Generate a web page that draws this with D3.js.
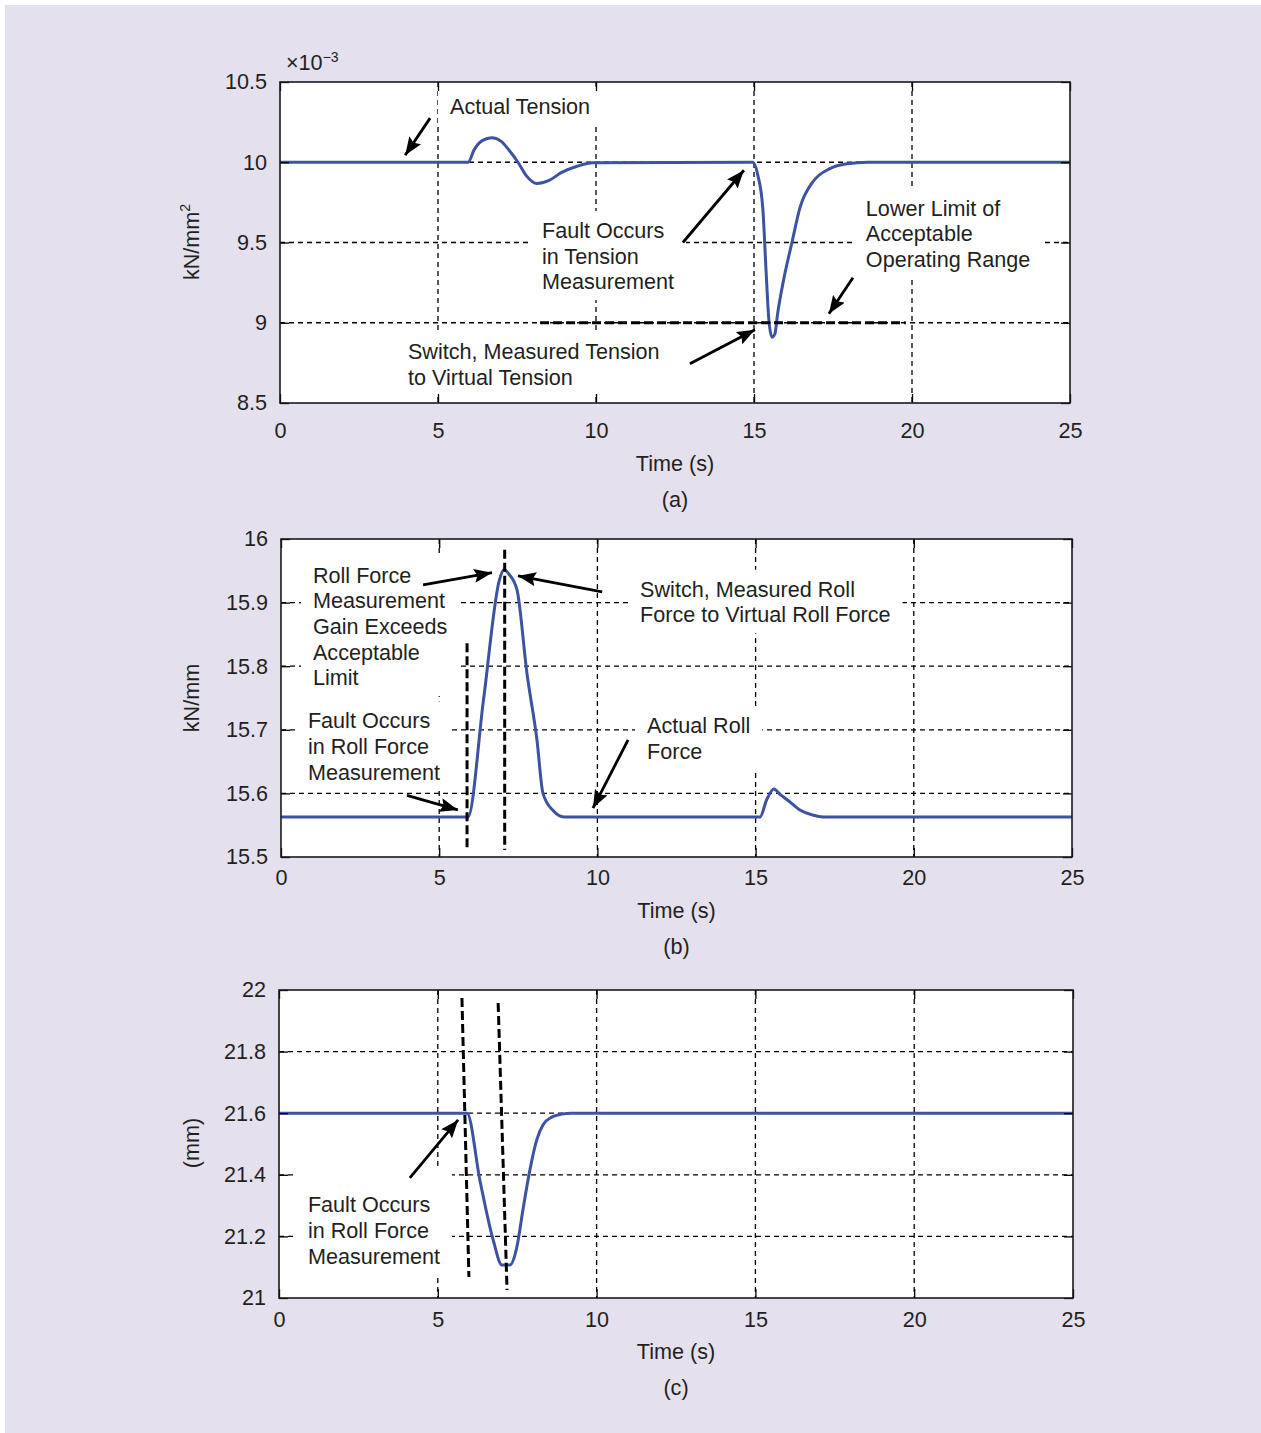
<!DOCTYPE html>
<html>
<head>
<meta charset="utf-8">
<script src="https://cdn.jsdelivr.net/npm/d3@7"></script>
<style>
body { margin: 0; background: #fff; }
svg { display: block; font-family: "Liberation Sans", Arial, Helvetica, sans-serif; }
</style>
</head>
<body>
<svg id="fig" width="1261" height="1433"></svg>
<script>
// shared time axis
var timeTicks = [0, 5, 10, 15, 20, 25];
var timeGrid = [5, 10, 15, 20];

// (a) strip tension, x10^-3 kN/mm2
var tensionTicks = [8.5, 9, 9.5, 10, 10.5];
var tensionGrid = [9, 9.5, 10];
var tension = [[0,10],[5.95,10],[6.15,10.08],[6.4,10.135],[6.7,10.152],[7.0,10.13],[7.25,10.075],
  [7.53,10],[7.8,9.915],[8.13,9.867],[8.5,9.885],[8.9,9.935],[9.4,9.975],[9.9,9.997],[14.97,10],
  [15.12,9.92],[15.28,9.71],[15.38,9.33],[15.47,9.02],[15.57,8.91],[15.66,8.93],[15.75,9.06],
  [15.92,9.25],[16.2,9.5],[16.46,9.72],[16.87,9.88],[17.4,9.96],[17.94,9.99],[18.6,10],[25,10]];
var tensionLimit = [[8.23, 9], [19.8, 9]];

// (b) roll force, kN/mm
var rollTicks = [15.5, 15.6, 15.7, 15.8, 15.9, 16];
var rollGrid = [15.6, 15.7, 15.8, 15.9];
var rollForce = [[0,15.563],[5.91,15.563],[6.4,15.747],[6.9,15.935],[7.05,15.952],[7.2,15.945],
  [7.46,15.92],[7.77,15.79],[8.09,15.684],[8.28,15.6],[8.6,15.573],[8.95,15.563],[15.14,15.563],
  [15.35,15.59],[15.58,15.607],[15.78,15.598],[16.0,15.59],[16.4,15.574],[16.8,15.566],
  [17.13,15.563],[25,15.563]];
var rollMarks = [[[5.88,15.836],[5.88,15.514]], [[7.07,15.983],[7.07,15.511]]];

// (c) roll gap, mm
var gapTicks = [21, 21.2, 21.4, 21.6, 21.8, 22];
var gapGrid = [21.2, 21.4, 21.6, 21.8];
var gap = [[0,21.6],[5.92,21.6],[6.33,21.38],[6.74,21.19],[7.02,21.107],[7.27,21.107],
  [7.49,21.166],[7.68,21.286],[7.9,21.416],[8.12,21.515],[8.31,21.562],[8.6,21.588],
  [8.9,21.597],[9.2,21.6],[25,21.6]];
var gapMarks = [[[5.76,21.974],[5.98,21.068]], [[6.9,21.958],[7.18,21.026]]];

var blue = "#3d52a1", ink = "#231f20", fs = 21.6;

var svg = d3.select("#fig");
svg.append("rect").attr("x", 5).attr("y", 5).attr("width", 1256).attr("height", 1428).attr("fill", "#e4e0ee");

var defs = svg.append("defs");
defs.append("marker").attr("id", "head")
  .attr("markerUnits", "userSpaceOnUse")
  .attr("viewBox", "0 0 18 14").attr("refX", 18).attr("refY", 7)
  .attr("markerWidth", 18).attr("markerHeight", 14).attr("orient", "auto")
  .append("path").attr("d", "M0,0 L18,7 L0,14 L3,7 Z").attr("fill", "#000");

function panel(cfg) {
  var x = d3.scaleLinear().domain([0, 25]).range([cfg.l, cfg.r]),
      y = d3.scaleLinear().domain(cfg.yDomain).range([cfg.b, cfg.t]);
  var g = svg.append("g");

  g.append("rect").attr("x", cfg.l).attr("y", cfg.t)
    .attr("width", cfg.r - cfg.l).attr("height", cfg.b - cfg.t).attr("fill", "#fff");

  // dotted matlab grid
  var grid = g.append("g").attr("stroke", "#000").attr("stroke-width", 1.3).attr("stroke-dasharray", "5,4");
  grid.selectAll(".vg").data(timeGrid).enter().append("line")
    .attr("x1", function(d) { return x(d); }).attr("x2", function(d) { return x(d); })
    .attr("y1", cfg.t).attr("y2", cfg.b);
  grid.selectAll(".hg").data(cfg.grid).enter().append("line")
    .attr("y1", function(d) { return y(d); }).attr("y2", function(d) { return y(d); })
    .attr("x1", cfg.l).attr("x2", cfg.r);

  var maskG = g.append("g"),
      lineG = g.append("g"),
      annG = g.append("g"),
      textG = g.append("g");

  var line = d3.line().x(function(d) { return x(d[0]); }).y(function(d) { return y(d[1]); })
    .curve(d3.curveMonotoneX);
  lineG.append("path").datum(cfg.series).attr("d", line)
    .attr("fill", "none").attr("stroke", blue).attr("stroke-width", 3).attr("stroke-linejoin", "round");

  var straight = d3.line().x(function(d) { return x(d[0]); }).y(function(d) { return y(d[1]); });
  (cfg.marks || []).forEach(function(m) {
    annG.append("path").attr("d", straight(m)).attr("fill", "none")
      .attr("stroke", "#000").attr("stroke-width", 3).attr("stroke-dasharray", "9,4");
  });

  cfg.arrows.forEach(function(a) {
    annG.append("path").attr("d", straight(a)).attr("fill", "none")
      .attr("stroke", "#000").attr("stroke-width", 2.8).attr("marker-end", "url(#head)");
  });

  cfg.labels.forEach(function(lb) {
    var t = textG.append("text").attr("x", x(lb.t)).attr("y", y(lb.v) + 7.5)
      .attr("font-size", fs).attr("fill", ink);
    lb.lines.forEach(function(s, i) {
      t.append("tspan").attr("x", x(lb.t)).attr("dy", i ? 25.6 : 0).text(s);
    });
    var bb = t.node().getBBox(), pt = lb.padTop || 7;
    maskG.append("rect").attr("x", bb.x - 12).attr("y", bb.y - pt)
      .attr("width", bb.width + 24).attr("height", bb.height + pt + 6).attr("fill", "#fff");
  });

  // axes with inward ticks
  function style(sel) {
    sel.attr("font-family", null).attr("font-size", fs).attr("color", ink);
    sel.select(".domain").remove();
    sel.selectAll(".tick line").attr("stroke", "#000").attr("stroke-width", 1.3);
  }
  g.append("g").attr("transform", "translate(0," + cfg.b + ")")
    .call(d3.axisBottom(x).tickValues(timeTicks).tickSizeInner(-9).tickSizeOuter(0)
      .tickPadding(cfg.xPad).tickFormat(d3.format("d"))).call(style);
  g.append("g").attr("transform", "translate(0," + cfg.t + ")")
    .call(d3.axisTop(x).tickValues(timeTicks).tickSizeInner(-9).tickSizeOuter(0).tickFormat("")).call(style);
  g.append("g").attr("transform", "translate(" + cfg.l + ",0)")
    .call(d3.axisLeft(y).tickValues(cfg.ticks).tickSizeInner(-9).tickSizeOuter(0)
      .tickPadding(13).tickFormat(d3.format(""))).call(style);
  g.append("g").attr("transform", "translate(" + cfg.r + ",0)")
    .call(d3.axisRight(y).tickValues(cfg.ticks).tickSizeInner(-9).tickSizeOuter(0).tickFormat("")).call(style);

  g.append("rect").attr("x", cfg.l).attr("y", cfg.t)
    .attr("width", cfg.r - cfg.l).attr("height", cfg.b - cfg.t)
    .attr("fill", "none").attr("stroke", "#1a1a1a").attr("stroke-width", 1.6);

  var cx = (cfg.l + cfg.r) / 2;
  g.append("text").attr("x", cx).attr("y", cfg.timeY).attr("text-anchor", "middle")
    .attr("font-size", fs).attr("fill", ink).text("Time (s)");
  g.append("text").attr("x", cx).attr("y", cfg.capY).attr("text-anchor", "middle")
    .attr("font-size", fs).attr("fill", ink).text(cfg.caption);

  var yl = g.append("text").attr("transform", "translate(199," + cfg.yLabelY + ") rotate(-90)")
    .attr("text-anchor", "middle").attr("font-size", fs).attr("fill", ink);
  yl.append("tspan").text(cfg.yLabel);
  if (cfg.yLabelSup) {
    yl.append("tspan").attr("font-size", 14).attr("dy", -9).text(cfg.yLabelSup);
  }
  return g;
}

var ga = panel({
  l: 280, r: 1070, t: 82, b: 403, xPad: 20, timeY: 471, capY: 507, caption: "(a)",
  yDomain: [8.5, 10.5], ticks: tensionTicks, grid: tensionGrid, series: tension,
  marks: [tensionLimit],
  yLabel: "kN/mm", yLabelSup: "2", yLabelY: 242,
  arrows: [[[4.75,10.275],[3.96,10.044]], [[12.75,9.5],[14.68,9.95]],
           [[18.13,9.28],[17.37,9.056]], [[12.97,8.744],[15.03,8.956]]],
  labels: [
    {t: 5.38, v: 10.35, lines: ["Actual Tension"]},
    {t: 8.29, v: 9.575, lines: ["Fault Occurs", "in Tension", "Measurement"]},
    {t: 18.54, v: 9.7125, lines: ["Lower Limit of", "Acceptable", "Operating Range"]},
    {t: 4.05, v: 8.819, lines: ["Switch, Measured Tension", "to Virtual Tension"]}
  ]
});
var exp = ga.append("text").attr("x", 286).attr("y", 70).attr("font-size", fs).attr("fill", ink);
exp.append("tspan").text("\u00d710");
exp.append("tspan").attr("font-size", 14).attr("dy", -8).text("\u22123");

panel({
  l: 281, r: 1072, t: 539, b: 857, xPad: 13, timeY: 918, capY: 954, caption: "(b)",
  yDomain: [15.5, 16], ticks: rollTicks, grid: rollGrid, series: rollForce,
  marks: rollMarks,
  yLabel: "kN/mm", yLabelY: 698,
  arrows: [[[4.49,15.928],[6.67,15.947]], [[10.15,15.917],[7.49,15.942]],
           [[3.98,15.597],[5.59,15.574]], [[10.97,15.684],[9.86,15.577]]],
  labels: [
    {t: 1.01, v: 15.943, lines: ["Roll Force", "Measurement", "Gain Exceeds", "Acceptable", "Limit"]},
    {t: 11.35, v: 15.921, lines: ["Switch, Measured Roll", "Force to Virtual Roll Force"]},
    {t: 0.85, v: 15.714, lines: ["Fault Occurs", "in Roll Force", "Measurement"]},
    {t: 11.57, v: 15.706, lines: ["Actual Roll", "Force"]}
  ]
});

panel({
  l: 279, r: 1073, t: 990, b: 1298, xPad: 14, timeY: 1359, capY: 1395, caption: "(c)",
  yDomain: [21, 22], ticks: gapTicks, grid: gapGrid, series: gap,
  marks: gapMarks,
  yLabel: "(mm)", yLabelY: 1143,
  arrows: [[[4.12,21.39],[5.64,21.578]]],
  labels: [
    {t: 0.91, v: 21.302, lines: ["Fault Occurs", "in Roll Force", "Measurement"], padTop: 24}
  ]
});
</script>
</body>
</html>
